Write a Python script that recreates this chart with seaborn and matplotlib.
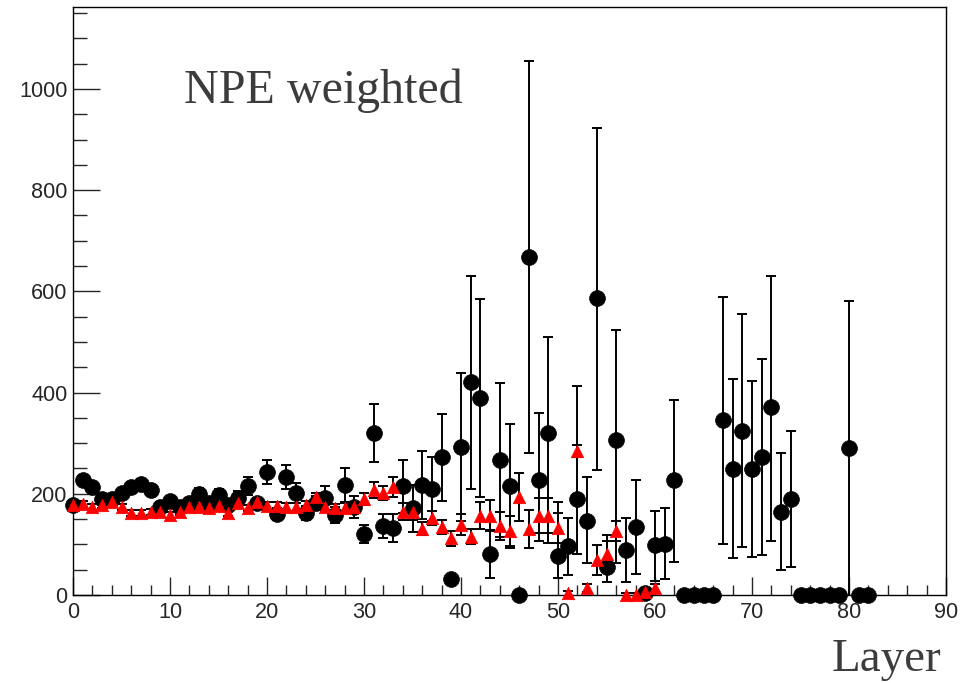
import matplotlib
matplotlib.use("Agg")
import matplotlib.pyplot as plt
from matplotlib.ticker import MultipleLocator
import seaborn as sns
import pandas as pd

# --- datos: NPE por capa (todas las entradas, circulos negros) ---
capas_all = list(range(0, 83))
npe_all = [178, 227, 213, 190, 190, 201, 213, 219, 207, 174,
           186, 174, 182, 200, 181, 198, 178, 192, 215, 182,
           243, 160, 233, 201, 162, 182, 192, 158, 217, 174,
           121, 320, 136, 132, 215, 171, 217, 209, 272, 31,
           292, 420, 389, 81, 267, 215, 0, 668, 227, 321,
           77, 97, 190, 147, 586, 55, 306, 89, 134, 3,
           99, 101, 227, 0, 0, 0, 0, 346, 249, 324,
           249, 273, 372, 164, 190, 0, 0, 0, 0, 0,
           290, 0, 0]
err_all_lo = [8, 10, 10, 10, 10, 10, 10, 10, 10, 10,
              10, 10, 10, 12, 10, 12, 10, 14, 18, 10,
              24, 12, 24, 20, 14, 14, 24, 16, 33, 22,
              18, 57, 24, 28, 52, 46, 67, 63, 86, 0,
              146, 210, 196, 48, 152, 123, 0, 388, 120, 218,
              43, 57, 109, 84, 338, 29, 243, 64, 93, 0,
              71, 69, 162, 0, 0, 0, 0, 245, 176, 229,
              174, 194, 265, 115, 135, 0, 0, 0, 0, 0,
              291, 0, 0]
err_all_hi = [8, 10, 10, 10, 10, 10, 10, 10, 10, 10,
              10, 10, 10, 12, 10, 12, 10, 14, 18, 10,
              24, 12, 24, 20, 14, 14, 24, 16, 33, 22,
              18, 57, 24, 28, 52, 46, 67, 63, 86, 0,
              146, 210, 196, 48, 152, 123, 0, 388, 132, 188,
              107, 55, 223, 86, 337, 64, 218, 63, 93, 0,
              67, 71, 158, 0, 0, 0, 0, 243, 178, 231,
              174, 193, 259, 117, 134, 0, 0, 0, 0, 0,
              291, 0, 0]

# --- datos: NPE ponderado (triangulos rojos) ---
capas_w = list(range(0, 61))
npe_w = [178, 180, 174, 178, 184, 174, 162, 162, 164, 164,
         158, 164, 174, 174, 172, 176, 162, 182, 172, 184,
         176, 176, 174, 174, 178, 194, 174, 172, 172, 174,
         189, 207, 201, 213, 165, 165, 131, 152, 134, 112,
         139, 115, 157, 157, 136, 127, 194, 130, 157, 157,
         133, 3, 284, 14, 69, 82, 126, 0, 0, 5,
         14]
err_w = [6, 6, 6, 6, 6, 6, 6, 6, 6, 6,
         6, 6, 6, 6, 6, 6, 6, 6, 6, 6,
         8, 8, 8, 8, 8, 8, 8, 8, 10, 10,
         12, 16, 14, 20, 16, 16, 13, 14, 14, 15,
         21, 15, 26, 30, 28, 30, 47, 38, 35, 35,
         30, 4, 12, 8, 30, 25, 20, 4, 4, 6,
         8]

df_all = pd.DataFrame({"Capa": capas_all, "NPE": npe_all})
df_w = pd.DataFrame({"Capa": capas_w, "NPE": npe_w})

sns.set_style("ticks")
plt.rcParams['font.family'] = ['Liberation Sans', 'DejaVu Sans']

fig = plt.figure(figsize=(9.73, 6.83), dpi=100)
ax = fig.add_axes([73 / 973, 1 - 595 / 683, (946 - 73) / 973, (595 - 7) / 683])

# barras de error
ax.errorbar(capas_all, npe_all, yerr=[err_all_lo, err_all_hi], fmt='none',
            ecolor='black', elinewidth=1.4, capsize=3.5, capthick=1.4, zorder=2)
ax.errorbar(capas_w, npe_w, yerr=err_w, fmt='none',
            ecolor='black', elinewidth=1.4, capsize=3.5, capthick=1.4, zorder=2)

# marcadores
sns.scatterplot(data=df_all, x="Capa", y="NPE", marker='o', s=130, color='black',
                edgecolor='black', linewidth=0.5, ax=ax, clip_on=False, zorder=3)
sns.scatterplot(data=df_w, x="Capa", y="NPE", marker='^', s=80, color='red',
                edgecolor='red', linewidth=0.5, ax=ax, clip_on=False, zorder=4)

ax.set_xlim(0, 90)
ax.set_ylim(0, 1162)
ax.xaxis.set_major_locator(MultipleLocator(10))
ax.xaxis.set_minor_locator(MultipleLocator(2))
ax.yaxis.set_major_locator(MultipleLocator(200))
ax.yaxis.set_minor_locator(MultipleLocator(50))
ax.tick_params(axis='x', which='major', direction='in', length=13, width=1,
               labelsize=15.6, pad=5, top=False)
ax.tick_params(axis='x', which='minor', direction='in', length=7, width=1, top=False)
ax.tick_params(axis='y', which='major', direction='in', length=19.5, width=1,
               labelsize=15.6, pad=4, right=False)
ax.tick_params(axis='y', which='minor', direction='in', length=10, width=1, right=False)
for s in ax.spines.values():
    s.set_visible(True)
    s.set_linewidth(1.0)
    s.set_color('black')
ax.set_xlabel("")
ax.set_ylabel("")

fig.text(184 / 973, 1 - 103 / 683, "NPE weighted", family=['Liberation Serif'],
         fontsize=34.6, color='#3c3c3c', ha='left', va='baseline')
fig.text(941 / 973, 1 - 671 / 683, "Layer", family=['Liberation Serif'],
         fontsize=33.8, color='#3c3c3c', ha='right', va='baseline')

fig.savefig("out.png", dpi=100)
